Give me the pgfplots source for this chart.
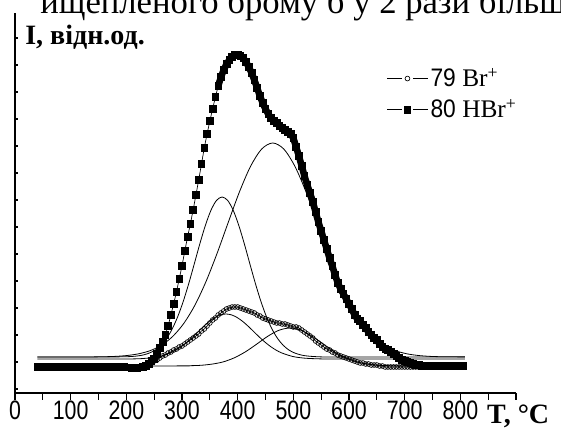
\documentclass[border=0pt]{standalone}
\usepackage{fontspec}
\setmainfont{Liberation Serif}
\newfontfamily\ticksans[FakeStretch=0.8]{Liberation Sans}
\newfontfamily\legsans[FakeStretch=0.9]{Liberation Sans}
\usepackage{pgfplots}
\pgfplotsset{compat=1.18}
\begin{document}
\begin{tikzpicture}
\begin{scope}
\clip (0,0) rectangle (420.75pt,321pt);
\node[anchor=base west,font=\fontsize{26}{29}\selectfont,inner sep=0pt] at (30pt,311pt) {ищепленого брому б у 2 рази більш};
\end{scope}
\begin{axis}[
  at={(11.25pt,26.25pt)}, anchor=south west,
  scale only axis, width=375.75pt, height=285pt,
  xmin=0, xmax=900, ymin=0, ymax=380,
  axis lines=left,
  axis line style={-, line width=1pt},
  clip=false,
  xtick={0,50,...,900},
  xticklabels={0,,100,,200,,300,,400,,500,,600,,700,,800,,},
  xtick align=outside,
  major tick length=5pt,
  ytick=\empty,
  extra y ticks={4,31,...,355},
  extra y tick labels={},
  extra y tick style={major tick length=2.5pt, ytick align=inside},
  every tick/.style={black, line width=0.8pt},
  xticklabel style={font=\ticksans\fontsize{20}{22}\selectfont, inner sep=1pt},
  legend style={draw=none, fill=none, at={(axis description cs:0.742,0.862)}, anchor=north west,
    row sep=4pt, inner sep=0pt, font=\fontsize{19}{22}\selectfont},
  legend cell align=left,
  legend image code/.code={
    \draw[#1,mark=none] (0cm,0cm) -- (0.38cm,0cm);
    \draw[#1,mark=none] (0.68cm,0cm) -- (1.06cm,0cm);
    \draw[#1,only marks] plot coordinates {(0.53cm,0cm)};
  },
]
% fitted components (thin lines)
\addplot[black, line width=0.6pt, smooth, forget plot] coordinates {
(40,36)(150,36)(202,36.3)(222,37.2)(232,38.3)(242,40.1)(252,43.0)(262,47.6)(272,54.3)(282,63.6)(292,75.9)(302,91.2)(312,109.2)(322,129.0)(332,149.1)(342,167.6)(352,182.7)(362,192.6)(372,196)(382,192.6)(392,182.7)(402,167.6)(412,149.1)(422,129.0)(432,109.2)(442,91.2)(452,75.9)(462,63.6)(472,54.3)(482,47.6)(492,43.0)(502,40.1)(512,38.3)(522,37.2)(542,36.3)(580,36)(808,36)};
\addplot[black, line width=0.6pt, smooth, forget plot] coordinates {
(40,36)(123,36)(163,36.3)(183,36.7)(203,37.6)(223,39.3)(243,42.4)(263,47.7)(283,56.4)(303,69.4)(323,87.6)(343,111.3)(363,139.6)(383,170.5)(403,200.8)(423,226.5)(443,243.9)(463,250)(483,243.9)(503,226.5)(523,200.8)(543,170.5)(563,139.6)(583,111.3)(603,87.6)(623,69.4)(643,56.4)(663,47.7)(683,42.4)(703,39.3)(723,37.6)(743,36.7)(763,36.3)(808,36.1)};
\addplot[black, line width=0.6pt, smooth, forget plot] coordinates {
(40,34)(200,34)(239,34.9)(259,36.5)(279,40.1)(289,42.9)(299,46.5)(309,50.9)(319,55.9)(329,61.3)(339,66.7)(349,71.6)(359,75.5)(369,78.1)(379,79)(389,78.1)(399,75.5)(409,71.6)(419,66.7)(429,61.3)(439,55.9)(449,50.9)(459,46.5)(469,42.9)(479,40.1)(499,36.5)(519,34.9)(539,34.3)(579,34)(808,34)};
\addplot[black, line width=0.6pt, smooth, forget plot] coordinates {
(40,27)(294,27.1)(314,27.3)(334,27.7)(354,28.9)(374,31.1)(394,35.2)(414,41.2)(434,48.8)(454,56.7)(474,62.7)(494,65)(514,62.7)(534,56.7)(554,48.8)(574,41.2)(594,35.2)(614,31.1)(634,28.9)(654,27.7)(674,27.3)(694,27.1)(808,27)};
% 79 Br+
\addplot[black, line width=0.5pt, mark=o, mark size=1.8pt, mark options={solid, line width=0.5pt}] coordinates {
(40,26)(45,26)(50,26)(55,26)(60,26)(65,26)(70,26)(75,26)(80,26)(85,26)(90,26)(95,26)(100,26)(105,26)(110,26)(115,26)(120,26)(125,26)(130,26)(135,26)(140,26)(145,26)(150,26)(155,26)(160,26)(165,26)(170,26)(175,26)(180,26)(185,26)(190,26)(195,26)(200,26)(205,26)(210,26)(215,26)(220,26)(225,26)(230,26)(235,27)
(240,28)(245,30)(250,32)(255,33)(260,35)(265,37)(270,38)(275,40)(280,41)(285,43)(290,44)(295,46)(300,47)(305,49)(310,51)(315,53)(320,55)(325,57)(330,59)(335,62)(340,64)(345,67)(350,70)(355,73)(360,75)(365,78)(370,80)(375,82)(380,84)(385,85)(390,86)(395,86)(400,86)(405,85)(410,84)(415,83)(420,82)(425,81)(430,80)(435,78)(440,77)(445,75)(450,74)(455,73)(460,72)(465,71)(470,70)(475,70)(480,69)(485,69)(490,68)(495,67)(500,66)(505,66)(510,65)(515,63)(520,61)(525,59)(530,57)(535,55)(540,52)(545,50)(550,48)(555,46)(560,44)(565,43)(570,41)(575,40)(580,38)(585,37)(590,36)(595,35)(600,34)(605,33)(610,32)(615,31)(620,30)(625,30)(630,29)(635,29)(640,28)(645,28)(650,28)(655,27)(660,27)(665,26)(670,26)(675,26)(680,26)(685,26)(690,26)(695,26)(700,26)(705,26)(710,26)(715,26)(720,26)(725,26)(730,26)(735,26)(740,26)(745,26)(750,26)(755,26)(760,26)(765,26)(770,26)(775,26)(780,26)(785,26)(790,26)(795,26)(800,26)(805,26)};
\addlegendentry{{\legsans 79} Br\textsuperscript{+}}
% 80 HBr+ : dense part drawn as a continuous band
\addplot[black, line width=5pt, line join=round, line cap=round, forget plot] coordinates {
(365,307)(370,316)(375,323)(380,329)(385,333)(390,336)(395,338)(400,338)(405,337)(410,335)(415,331)(420,326)(425,320)(430,313)(435,305)(440,297)(445,290)(450,284)(455,279)(460,275)(465,272)(470,270)(475,267)(480,265)(485,263)(490,261)(495,259)(500,255)(505,246)(510,237)(515,227)(520,217)(525,208)(530,200)(535,191)(540,181)(545,171)(550,162)(555,153)(560,144)(565,135)(570,127)(575,118)(580,110)(585,104)(590,99)(595,94)(600,89)(605,84)(610,78)(615,74)(620,72)(625,68)(630,65)(635,61)(640,58)(645,55)(650,53)(655,49)(660,46)(665,44)(670,43)(675,41)(680,39)(685,37)(690,35)(695,33)(700,32)(705,31)(710,30)(715,29)(720,28)(725,28)(730,27)(735,27)(740,27)(745,27)(750,27)(755,27)(760,27)(765,27)(770,27)(775,27)(780,27)(785,27)(790,27)(795,27)(800,27)(805,27)};
\addplot[black, line width=0.5pt, mark=square*, mark size=2.5pt, mark options={solid}] coordinates {
(40,26)(45,26)(50,26)(55,26)(60,26)(65,26)(70,26)(75,26)(80,26)(85,26)(90,26)(95,26)(100,26)(105,26)(110,26)(115,26)(120,26)(125,26)(130,26)(135,26)(140,26)(145,26)(150,26)(155,26)(160,26)(165,26)(170,26)(175,26)(180,26)(185,26)(190,26)(195,26)(200,25.5)(205,25.5)(210,25)(215,25)(220,25)(225,25.5)(230,26)(235,27)(240,29)(245,32)(250,34)(255,39)(260,45)(265,51)(270,58)(275,67)(280,78)(285,89)(290,101)(295,114)(300,127)(305,142)(310,156)(315,169)(320,183)(325,198)(330,213)(335,229)(340,245)(345,259)(350,272)(355,284)(360,296)(365,307)(370,316)(375,323)(380,329)(385,333)(390,336)(395,338)(400,338)(405,337)(410,335)(415,331)(420,326)(425,320)(430,313)(435,305)(440,297)(445,290)(450,284)(455,279)(460,275)(465,272)(470,270)(475,267)(480,265)(485,263)(490,261)(495,259)(500,255)(505,246)(510,237)(515,227)(520,217)(525,208)(530,200)(535,191)(540,181)(545,171)(550,162)(555,153)(560,144)(565,135)(570,127)(575,118)(580,110)(585,104)(590,99)(595,94)(600,89)(605,84)(610,78)(615,74)(620,72)(625,68)(630,65)(635,61)(640,58)(645,55)(650,53)(655,49)(660,46)(665,44)(670,43)(675,41)(680,39)(685,37)(690,35)(695,33)(700,32)(705,31)(710,30)(715,29)(720,28)(725,28)(730,27)(735,27)(740,27)(745,27)(750,27)(755,27)(760,27)(765,27)(770,27)(775,27)(780,27)(785,27)(790,27)(795,27)(800,27)(805,27)};
\addlegendentry{{\legsans 80} HBr\textsuperscript{+}}
\node[anchor=base west, inner sep=0pt, font=\bfseries\fontsize{21}{24}\selectfont] at (axis description cs:0.02,0.918) {I, відн.од.};
\node[anchor=base west, inner sep=0pt, font=\bfseries\fontsize{21}{24}\selectfont] at (axis description cs:0.942,-0.08) {T, °C};
\end{axis}
\pgfresetboundingbox
\path[use as bounding box] (0,0) rectangle (420.75pt,321pt);
\end{tikzpicture}
\end{document}
